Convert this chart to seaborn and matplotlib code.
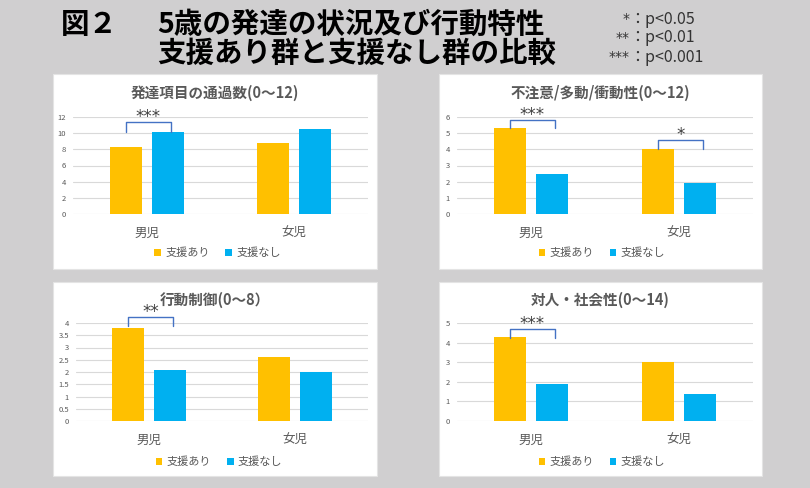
import numpy as np
import pandas as pd
import matplotlib
matplotlib.use('Agg')
import matplotlib.pyplot as plt
from matplotlib.patches import Rectangle
from matplotlib.ticker import FuncFormatter
import seaborn as sns

# data
sex = ['男児', '女児']
groups = ['支援あり', '支援なし']
titles = ['発達項目の通過数(0～12)', '不注意/多動/衝動性(0～12)', '行動制御(0～8）', '対人・社会性(0～14)']
support_yes = [[8.3, 8.8], [5.3, 4.0], [3.8, 2.6], [4.3, 3.0]]
support_no = [[10.1, 10.5], [2.5, 1.9], [2.1, 2.0], [1.9, 1.4]]
y_max = [12, 6, 4, 5]
y_step = [2, 1, 0.5, 1]

# significance brackets
sig_panel = [0, 1, 1, 2, 3]
sig_sex = [0, 0, 1, 0, 0]
sig_label = ['***', '***', '*', '**', '***']
sig_top = [11.4, 5.8, 4.6, 4.23, 4.71]
sig_leg = [10.1, 5.3, 4.0, 3.86, 4.23]

notes_stars = ['*', '**', '***']
notes_text = ['：p<0.05', '：p<0.01', '：p<0.001']

colors = ['#FFC000', '#00B0F0']
bg = '#d0cfd0'
grey = '#595959'

sns.set_theme(style='white')
plt.rcParams['font.family'] = ['Noto Sans CJK JP', 'DejaVu Sans']

W, H = 810, 488
fig = plt.figure(figsize=(W / 100, H / 100), dpi=100, facecolor=bg)


def fbox(x0, y0, x1, y1):
    return [x0 / W, 1 - y1 / H, (x1 - x0) / W, (y1 - y0) / H]


boxes = [(53, 74, 377, 269), (439, 74, 762, 269), (53, 282, 377, 476), (439, 282, 762, 476)]
axes_px = [(73, 117, 368, 214), (457, 117, 753, 214), (76, 323, 368, 421), (457, 323, 753, 421)]
title_y = [93, 93, 300, 300]
legend_y = [253, 253, 462, 462]

for b in boxes:
    x0, y0, x1, y1 = b
    fig.patches.append(Rectangle((x0 / W, 1 - y1 / H), (x1 - x0) / W, (y1 - y0) / H,
                                 transform=fig.transFigure, facecolor='white',
                                 edgecolor='#e4e4e4', linewidth=0.8, zorder=-5))

axes = []
for i in range(4):
    df = pd.DataFrame({
        'sex': sex * 2,
        'group': [groups[0]] * 2 + [groups[1]] * 2,
        'value': support_yes[i] + support_no[i],
    })
    ax = fig.add_axes(fbox(*axes_px[i]), zorder=2)
    ax.patch.set_alpha(0)
    sns.barplot(data=df, x='sex', y='value', hue='group', palette=colors,
                width=0.57, gap=0.23, linewidth=0, saturation=1, ax=ax, zorder=2)
    ax.set_xlim(-0.5, 1.5)
    ax.set_ylim(0, y_max[i])
    ax.set_yticks(np.arange(0, y_max[i] + y_step[i] / 2, y_step[i]))
    ax.yaxis.set_major_formatter(FuncFormatter(lambda v, p: f'{v:g}'))
    ax.grid(axis='y', color='#d9d9d9', linewidth=0.8)
    ax.set_axisbelow(True)
    for s in ax.spines.values():
        s.set_visible(False)
    ax.set_xlabel('')
    ax.set_ylabel('')
    ax.tick_params(axis='y', length=0, labelsize=5.5, labelcolor=grey, pad=5)
    ax.tick_params(axis='x', length=0, labelsize=9, labelcolor=grey, pad=9)

    ly = (axes_px[i][3] - legend_y[i]) / (axes_px[i][3] - axes_px[i][1])
    sns.move_legend(ax, 'center', bbox_to_anchor=(0.49, ly), ncol=2, title=None,
                    frameon=False, fontsize=8, labelcolor=grey,
                    handlelength=0.6, handleheight=0.6, handletextpad=0.4,
                    columnspacing=1.4)

    bx0, _, bx1, _ = boxes[i]
    fig.text((bx0 + bx1) / 2 / W, 1 - title_y[i] / H, titles[i], ha='center', va='center',
             fontsize=10.5, fontweight='bold', color=grey)
    axes.append(ax)

for p, s, lab, top, leg in zip(sig_panel, sig_sex, sig_label, sig_top, sig_leg):
    ax = axes[p]
    bars = [b for b in ax.patches if b.get_height() > 0]
    left = bars[s].get_x() + bars[s].get_width() / 2
    right = bars[s + 2].get_x() + bars[s + 2].get_width() / 2 + 0.02
    ax.plot([left, left, right, right], [leg, top, top, leg], color='#4472C4',
            linewidth=1.0, clip_on=False, zorder=3)
    ax.annotate(lab, xy=((left + right) / 2, top), xytext=(0, 0), textcoords='offset points',
                ha='center', va='baseline', fontsize=12, color='#404040',
                family='DejaVu Sans', annotation_clip=False)

# main title
fig.text(61 / W, 1 - 25 / H, '図２', ha='left', va='center', fontsize=20.5,
         fontweight='bold', color='black')
fig.text(157 / W, 1 - 25 / H, '5歳の発達の状況及び行動特性', ha='left', va='center',
         fontsize=20.5, fontweight='bold', color='black')
fig.text(157 / W, 1 - 54 / H, '支援あり群と支援なし群の比較', ha='left', va='center',
         fontsize=20.5, fontweight='bold', color='black')

for k, (st, tx) in enumerate(zip(notes_stars, notes_text)):
    y = 1 - (19 + 19 * k) / H
    fig.text(630 / W, y, st, ha='right', va='center', fontsize=10, color='#333333',
             family='DejaVu Sans')
    fig.text(629 / W, y, tx, ha='left', va='center', fontsize=11.5, color='#333333')

fig.savefig('out.png', dpi=100, facecolor=bg)
